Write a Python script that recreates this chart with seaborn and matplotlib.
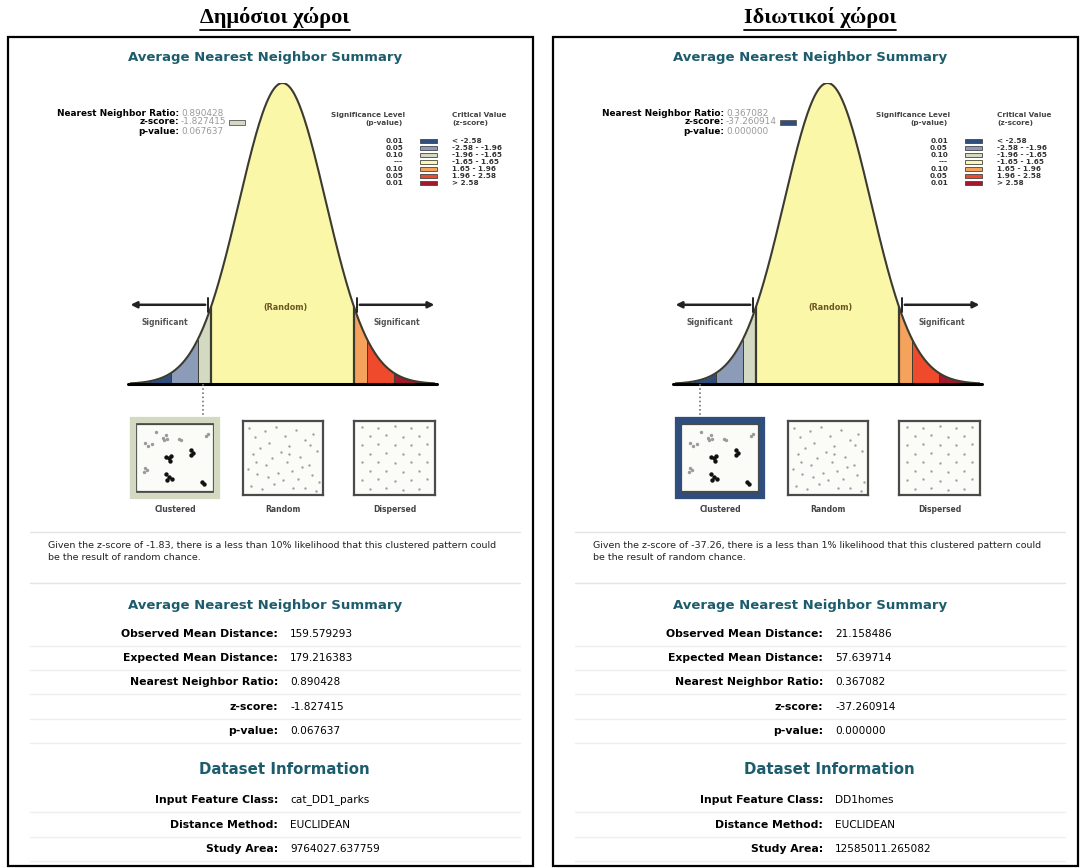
import numpy as np
import pandas as pd
import matplotlib.pyplot as plt
import seaborn as sns
from matplotlib.patches import Rectangle
from matplotlib.lines import Line2D

sns.set_theme(style="white")
plt.rcParams["font.family"] = ["DejaVu Sans"]
plt.rcParams["text.color"] = "black"

panel_titles = ["Δημόσιοι χώροι", "Ιδιωτικοί χώροι"]
feature_class = ["cat_DD1_parks", "DD1homes"]
distance_method = ["EUCLIDEAN", "EUCLIDEAN"]
observed_dist = [159.579293, 21.158486]
expected_dist = [179.216383, 57.639714]
nn_ratio = [0.890428, 0.367082]
z_score = [-1.827415, -37.260914]
p_value = [0.067637, 0.000000]
study_area = [9764027.637759, 12585011.265082]
likelihood = ["10%", "1%"]

# --- significance bins of the bell curve ---
z_edges = [-3.52, -2.58, -1.96, -1.65, 1.65, 1.96, 2.58, 3.52]
bin_colors = ["#2f4e7d", "#8c9cb8", "#d4d9c2", "#fbf7a9", "#f5a25c", "#ef4a2c", "#a3182c"]
sig_level = ["0.01", "0.05", "0.10", "---", "0.10", "0.05", "0.01"]
crit_value = ["< -2.58", "-2.58 - -1.96", "-1.96 - -1.65", "-1.65 - 1.65",
              "1.65 - 1.96", "1.96 - 2.58", "> 2.58"]
pattern_names = ["Clustered", "Random", "Dispersed"]

# --- dots of the three pattern thumbnails (unit square) ---
clust_dark_x = [0.38, 0.42, 0.45, 0.43, 0.70, 0.73, 0.71, 0.38, 0.42, 0.46, 0.40, 0.84, 0.87]
clust_dark_y = [0.52, 0.50, 0.53, 0.46, 0.62, 0.58, 0.54, 0.27, 0.22, 0.19, 0.18, 0.15, 0.12]
clust_light_x = [0.12, 0.16, 0.20, 0.34, 0.38, 0.40, 0.36, 0.55, 0.58, 0.92, 0.90, 0.12, 0.14, 0.10, 0.25]
clust_light_y = [0.72, 0.68, 0.70, 0.80, 0.84, 0.78, 0.76, 0.78, 0.76, 0.86, 0.82, 0.35, 0.32, 0.30, 0.88]
random_x = [0.08, 0.15, 0.27, 0.33, 0.41, 0.52, 0.58, 0.66, 0.77, 0.88, 0.93, 0.12, 0.21, 0.36,
            0.47, 0.55, 0.71, 0.82, 0.06, 0.18, 0.29, 0.44, 0.61, 0.69, 0.86, 0.95, 0.10, 0.24,
            0.39, 0.50, 0.63, 0.78, 0.91, 0.16, 0.31, 0.57, 0.74, 0.84]
random_y = [0.90, 0.78, 0.86, 0.70, 0.92, 0.80, 0.66, 0.88, 0.74, 0.83, 0.60, 0.55, 0.63, 0.50,
            0.58, 0.44, 0.52, 0.40, 0.35, 0.28, 0.41, 0.30, 0.33, 0.22, 0.27, 0.18, 0.12, 0.08,
            0.15, 0.20, 0.10, 0.09, 0.06, 0.45, 0.24, 0.55, 0.38, 0.68]
disp_x = [0.10, 0.30, 0.50, 0.70, 0.90, 0.20, 0.40, 0.60, 0.80, 0.10, 0.30, 0.50, 0.70, 0.90,
          0.20, 0.40, 0.60, 0.80, 0.10, 0.30, 0.50, 0.70, 0.90, 0.20, 0.40, 0.60, 0.80, 0.10,
          0.30, 0.50, 0.70, 0.90, 0.20, 0.40, 0.60, 0.80]
disp_y = [0.92, 0.90, 0.93, 0.91, 0.92, 0.80, 0.81, 0.79, 0.80, 0.68, 0.69, 0.67, 0.68, 0.69,
          0.56, 0.57, 0.55, 0.56, 0.44, 0.45, 0.43, 0.44, 0.45, 0.32, 0.33, 0.31, 0.32, 0.20,
          0.21, 0.19, 0.20, 0.21, 0.08, 0.09, 0.07, 0.08]

W, H = 1084, 868
TEAL = "#1d5c6c"
fig = plt.figure(figsize=(W / 100, H / 100), dpi=100)


def txt(x, y, s, **kw):
    kw.setdefault("va", "center")
    return fig.text(x / W, 1 - y / H, s, **kw)


def add_ax(x0, y0, x1, y1):
    return fig.add_axes([x0 / W, 1 - y1 / H, (x1 - x0) / W, (y1 - y0) / H])


def hline(x0, x1, y, **kw):
    fig.add_artist(Line2D([x0 / W, x1 / W], [1 - y / H] * 2, transform=fig.transFigure, **kw))


def rect(x0, y0, x1, y1, **kw):
    fig.add_artist(Rectangle((x0 / W, 1 - y1 / H), (x1 - x0) / W, (y1 - y0) / H,
                             transform=fig.transFigure, **kw))


def pdf(z):
    return np.exp(-0.5 * np.asarray(z) ** 2) / np.sqrt(2 * np.pi)


renderer = fig.canvas.get_renderer()

for i, dx in enumerate([0, 545]):
    z = z_score[i]
    zbin = int(np.digitize(z, z_edges[1:-1]))

    # panel frame and title
    rect(8 + dx, 37, 533 + dx, 866, fill=False, ec="black", lw=1.6)
    t = txt(275 + dx, 17, panel_titles[i], ha="center", fontsize=16, fontweight="bold",
            family=["Liberation Serif", "DejaVu Serif"])
    bb = t.get_window_extent(renderer=renderer)
    fig.add_artist(Line2D([bb.x0 / W, bb.x1 / W], [(bb.y0 - 2) / H] * 2,
                          transform=fig.transFigure, color="black", lw=1.3))

    txt(265 + dx, 58, "Average Nearest Neighbor Summary", ha="center", color=TEAL,
        fontsize=9.5, fontweight="bold")

    # bell curve
    ax = add_ax(130 + dx, 83, 435 + dx, 384)
    zz = np.linspace(z_edges[0], z_edges[-1], 400)
    for lo, hi, c in zip(z_edges[:-1], z_edges[1:], bin_colors):
        seg = np.linspace(lo, hi, 80)
        ax.fill_between(seg, 0, pdf(seg), color=c, lw=0)
    for e in z_edges[1:-1]:
        ax.plot([e, e], [0, pdf(e)], color="#3b3b30", lw=1.6 if abs(e) == 1.65 else 0.7)
    sns.lineplot(x=zz, y=pdf(zz), ax=ax, color="#3b3b30", lw=1.5)
    ax.plot([z_edges[0] - 0.05, z_edges[-1] + 0.05], [0, 0], color="black", lw=2.2, clip_on=False)
    ax.set_xlim(z_edges[0], z_edges[-1])
    ax.set_ylim(0, pdf(0))
    ax.axis("off")

    ya = 0.105
    ax.annotate("", xy=(-3.57, ya), xytext=(-1.72, ya), annotation_clip=False,
                arrowprops=dict(arrowstyle="-|>", color="#222222", lw=1.8, mutation_scale=9))
    ax.annotate("", xy=(3.57, ya), xytext=(1.72, ya), annotation_clip=False,
                arrowprops=dict(arrowstyle="-|>", color="#222222", lw=1.8, mutation_scale=9))
    for s in (-1.72, 1.72):
        ax.plot([s, s], [ya - 0.009, ya + 0.009], color="#222222", lw=1.4, clip_on=False)
    ax.text(-2.72, 0.082, "Significant", ha="center", va="center", fontsize=5.5,
            fontweight="bold", color="#555555")
    ax.text(2.64, 0.082, "Significant", ha="center", va="center", fontsize=5.5,
            fontweight="bold", color="#555555")
    ax.text(0.06, 0.102, "(Random)", ha="center", va="center", fontsize=5.8,
            fontweight="bold", color="#6b5522")

    # dotted pointer from the z-score to the clustered thumbnail
    zp = max(min(z, 2.95), -2.95)
    ax.plot([zp, zp], [0, -0.047], ls=(0, (1, 1.5)), color="#777777", lw=1.2, clip_on=False)

    # top-left statistics
    fs = 6.4
    txt(179 + dx, 113, "Nearest Neighbor Ratio:", ha="right", fontsize=fs, fontweight="bold")
    txt(181 + dx, 113, f"{nn_ratio[i]:.6f}", ha="left", fontsize=fs, color="#9a9a9a")
    txt(179 + dx, 122, "z-score:", ha="right", fontsize=fs, fontweight="bold")
    zt = txt(181 + dx, 122, f"{z:.6f}", ha="left", fontsize=fs, color="#9a9a9a")
    zb = zt.get_window_extent(renderer=renderer)
    rect(zb.x1 + 3, 119.5, zb.x1 + 19, 124.5, fc=bin_colors[zbin], ec="#555555", lw=0.6)
    txt(179 + dx, 131, "p-value:", ha="right", fontsize=fs, fontweight="bold")
    txt(181 + dx, 131, f"{p_value[i]:.6f}", ha="left", fontsize=fs, color="#9a9a9a")

    # legend of the bins
    fl = 5.2
    txt(405 + dx, 115, "Significance Level", ha="right", fontsize=fl, fontweight="bold", color="#444444")
    txt(403 + dx, 123, "(p-value)", ha="right", fontsize=fl, fontweight="bold", color="#444444")
    txt(452 + dx, 115, "Critical Value", ha="left", fontsize=fl, fontweight="bold", color="#444444")
    txt(452 + dx, 123, "(z-score)", ha="left", fontsize=fl, fontweight="bold", color="#444444")
    for k in range(len(bin_colors)):
        yk = 141 + 7 * k
        txt(403 + dx, yk, sig_level[k], ha="right", fontsize=fl, fontweight="bold", color="#333333")
        rect(420 + dx, yk - 2.3, 437 + dx, yk + 2.3, fc=bin_colors[k], ec="#444444", lw=0.6)
        txt(452 + dx, yk, crit_value[k], ha="left", fontsize=fl, fontweight="bold", color="#333333")

    # pattern thumbnails
    boxes = [(136, 424, 214, 492), (243, 421, 323, 495), (354, 421, 435, 495)]
    rect(133 + dx, 420, 217 + dx, 496, fill=False, ec=bin_colors[zbin], lw=4.5)
    dots = [
        [(clust_light_x, clust_light_y, "#9a9a9a", 6), (clust_dark_x, clust_dark_y, "#111111", 10)],
        [(random_x, random_y, "#a0a0a0", 3)],
        [(disp_x, disp_y, "#a0a0a0", 3)],
    ]
    for (x0, y0, x1, y1), layers, name in zip(boxes, dots, pattern_names):
        axp = add_ax(x0 + dx, y0, x1 + dx, y1)
        axp.set_facecolor("#fbfbf8")
        for xs, ys, c, s in layers:
            sns.scatterplot(x=xs, y=ys, ax=axp, color=c, s=s, linewidth=0, legend=False)
        axp.set_xlim(0, 1)
        axp.set_ylim(0, 1)
        axp.set_xticks([])
        axp.set_yticks([])
        for sp in axp.spines.values():
            sp.set_color("#4a4a4a")
            sp.set_linewidth(1.6)
        txt((x0 + x1) / 2 + dx, 510, name, ha="center", fontsize=5.5, fontweight="bold", color="#444444")

    # interpretation sentence
    hline(30 + dx, 520 + dx, 532, color="#e4e4e4", lw=1)
    kind = "clustered" if z < 0 else "dispersed"
    txt(48 + dx, 546, f"Given the z-score of {z:.2f}, there is a less than {likelihood[i]} likelihood "
        f"that this {kind} pattern could", ha="left", fontsize=6.8, color="#222222")
    txt(48 + dx, 558, "be the result of random chance.", ha="left", fontsize=6.8, color="#222222")
    hline(30 + dx, 520 + dx, 583, color="#e4e4e4", lw=1)

    # summary table
    txt(265 + dx, 605, "Average Nearest Neighbor Summary", ha="center", color=TEAL,
        fontsize=9.5, fontweight="bold")
    rows = [("Observed Mean Distance:", f"{observed_dist[i]:.6f}"),
            ("Expected Mean Distance:", f"{expected_dist[i]:.6f}"),
            ("Nearest Neighbor Ratio:", f"{nn_ratio[i]:.6f}"),
            ("z-score:", f"{z:.6f}"),
            ("p-value:", f"{p_value[i]:.6f}")]
    for k, (lab, val) in enumerate(rows):
        yk = 634 + 24.2 * k
        txt(278 + dx, yk, lab, ha="right", fontsize=7.8, fontweight="bold")
        txt(290 + dx, yk, val, ha="left", fontsize=7.6)
        hline(30 + dx, 520 + dx, yk + 12, color="#efefef", lw=1)

    txt(284 + dx, 770, "Dataset Information", ha="center", color=TEAL, fontsize=10.8, fontweight="bold")
    rows = [("Input Feature Class:", feature_class[i]),
            ("Distance Method:", distance_method[i]),
            ("Study Area:", f"{study_area[i]:.6f}")]
    for k, (lab, val) in enumerate(rows):
        yk = 800 + 24.5 * k
        txt(278 + dx, yk, lab, ha="right", fontsize=7.8, fontweight="bold")
        txt(290 + dx, yk, val, ha="left", fontsize=7.6)
        hline(30 + dx, 520 + dx, yk + 12, color="#efefef", lw=1)

fig.savefig("out.png", dpi=100)
